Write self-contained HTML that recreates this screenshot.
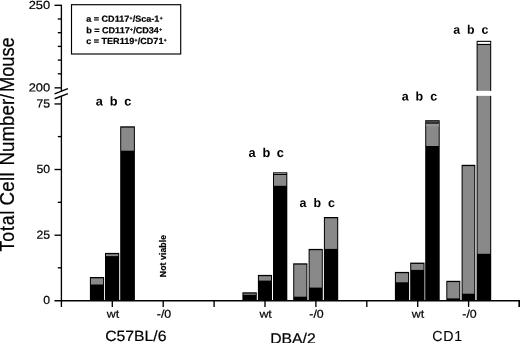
<!DOCTYPE html>
<html><head><meta charset="utf-8"><title>Total Cell Number/Mouse</title><style>
html,body{margin:0;padding:0;background:#fff;overflow:hidden}
svg{display:block}
text{font-family:"Liberation Sans",sans-serif;fill:#000}
.b{font-weight:bold}
.n{font-size:11.6px;text-anchor:end}
.x{font-size:11.8px;text-anchor:middle}
.g{font-size:15.6px;text-anchor:middle}
.l{font-size:13px;font-weight:bold;text-anchor:middle}
.k{font-size:8.8px;font-weight:bold}
.s{font-size:4.8px}
</style></head><body>
<svg width="520" height="343" viewBox="0 0 520 343">
<rect width="520" height="343" fill="#fff"/>
<text transform="translate(14.2,251.5) rotate(-90) scale(0.8800,1)" font-size="20px" letter-spacing="1.1" stroke="#000" stroke-width="0.25">Total</text>
<text transform="translate(14.2,205.6) rotate(-90) scale(0.9400,1)" font-size="20px" letter-spacing="0.35" stroke="#000" stroke-width="0.25">Cell</text>
<text transform="translate(14.2,165.4) rotate(-90) scale(0.9350,1)" font-size="20px" letter-spacing="0" stroke="#000" stroke-width="0.25">Number/</text>
<text transform="translate(14.2,91.9) rotate(-90) scale(0.9100,1)" font-size="20px" letter-spacing="0" stroke="#000" stroke-width="0.25">Mouse</text>
<g stroke="#000" stroke-width="1.35" fill="none">
<path d="M61.4 4.7V91.4M61.4 96V306.9"/>
<path d="M54.5 300.75H520"/>
<path d="M54.5 5.3H61.4"/>
<path d="M54.5 87.85H61.4"/>
<path d="M54.5 103.95H61.4"/>
<path d="M54.5 169.5H61.4"/>
<path d="M54.5 235.2H61.4"/>
<path d="M57.8 19H61.4"/>
<path d="M57.8 32.7H61.4"/>
<path d="M57.8 46.4H61.4"/>
<path d="M57.8 60.1H61.4"/>
<path d="M57.8 73.8H61.4"/>
<path d="M57.8 136.6H61.4"/>
<path d="M57.8 202.3H61.4"/>
<path d="M57.8 267.8H61.4"/>
<path d="M54.6 93.95L67.9 88.55M54.6 98.75L67.9 93.55"/>
<path d="M519.2 300.75V306.9" stroke-width="1.7"/>
<path d="M112.3 300.75V306.9"/>
<path d="M163.2 300.75V306.9"/>
<path d="M214.1 300.75V306.9"/>
<path d="M265.0 300.75V306.9"/>
<path d="M315.9 300.75V306.9"/>
<path d="M366.8 300.75V306.9"/>
<path d="M417.7 300.75V306.9"/>
<path d="M468.6 300.75V306.9"/>
</g>
<text transform="translate(50.1,8.9) rotate(0.03) scale(1.1,1)" font-size="11.7px" text-anchor="end" stroke="#000" stroke-width="0.2">250</text>
<text transform="translate(50.1,91.4) rotate(0.03) scale(1.1,1)" font-size="11.7px" text-anchor="end" stroke="#000" stroke-width="0.2">200</text>
<text transform="translate(50.1,107.5) rotate(0.03) scale(1.045,1)" font-size="11.7px" text-anchor="end" stroke="#000" stroke-width="0.2">75</text>
<text transform="translate(50.1,173.1) rotate(0.03) scale(1.045,1)" font-size="11.7px" text-anchor="end" stroke="#000" stroke-width="0.2">50</text>
<text transform="translate(50.1,238.8) rotate(0.03) scale(1.045,1)" font-size="11.7px" text-anchor="end" stroke="#000" stroke-width="0.2">25</text>
<text transform="translate(50.1,303.9) rotate(0.03) scale(1.045,1)" font-size="11.7px" text-anchor="end" stroke="#000" stroke-width="0.2">0</text>
<rect x="71.5" y="4.7" width="109.2" height="49.3" fill="#fff" stroke="#000" stroke-width="1.15"/>
<text class="k" transform="translate(86.2,21.8) rotate(0.03) scale(1.03,1)" stroke="#000" stroke-width="0.2">a = CD117<tspan class="s" dy="-2.2" dx="0.3">+</tspan><tspan dy="2.2" dx="0.3">/Sca-1</tspan><tspan class="s" dy="-2.2" dx="0.3">+</tspan></text>
<text class="k" transform="translate(86.2,33.3) rotate(0.03) scale(1.03,1)" stroke="#000" stroke-width="0.2">b = CD117<tspan class="s" dy="-2.2" dx="0.3">+</tspan><tspan dy="2.2" dx="0.3">/CD34</tspan><tspan class="s" dy="-2.2" dx="0.3">+</tspan></text>
<text class="k" transform="translate(86.2,44.0) rotate(0.03) scale(1.03,1)" stroke="#000" stroke-width="0.2">c = TER119<tspan class="s" dy="-2.2" dx="0.3">+</tspan><tspan dy="2.2" dx="0.3">/CD71</tspan><tspan class="s" dy="-2.2" dx="0.3">+</tspan></text>
<rect x="89.9" y="277.0" width="14.2" height="23.8" fill="#000"/>
<rect x="90.90" y="278.3" width="12.20" height="6.2" fill="#898989"/>
<rect x="105.0" y="252.9" width="14.2" height="47.8" fill="#000"/>
<rect x="106.00" y="254.2" width="12.20" height="1.9" fill="#898989"/>
<rect x="120.2" y="126.3" width="14.7" height="174.4" fill="#000"/>
<rect x="121.20" y="127.6" width="12.70" height="23.1" fill="#898989"/>
<rect x="242.4" y="292.3" width="14.4" height="8.4" fill="#000"/>
<rect x="243.40" y="293.6" width="12.40" height="1.2" fill="#898989"/>
<rect x="257.9" y="274.9" width="14.1" height="25.9" fill="#000"/>
<rect x="258.90" y="276.2" width="12.10" height="4.4" fill="#898989"/>
<rect x="273.0" y="172.3" width="14.3" height="128.4" fill="#000"/>
<rect x="274.00" y="173.4" width="12.30" height="0.5" fill="#fff"/>
<rect x="274.00" y="175.0" width="12.30" height="10.8" fill="#898989"/>
<rect x="293.2" y="263.3" width="14.2" height="37.4" fill="#000"/>
<rect x="294.20" y="264.6" width="12.20" height="32.1" fill="#898989"/>
<rect x="308.6" y="248.9" width="14.2" height="51.8" fill="#000"/>
<rect x="309.60" y="250.2" width="12.20" height="37.4" fill="#898989"/>
<rect x="323.9" y="217.0" width="14.3" height="83.8" fill="#000"/>
<rect x="324.90" y="218.3" width="12.30" height="30.6" fill="#898989"/>
<rect x="394.9" y="271.9" width="14.2" height="28.9" fill="#000"/>
<rect x="395.90" y="273.2" width="12.20" height="9.1" fill="#898989"/>
<rect x="410.2" y="262.6" width="14.3" height="38.1" fill="#000"/>
<rect x="411.20" y="263.9" width="12.30" height="6.0" fill="#898989"/>
<rect x="425.2" y="120.2" width="14.5" height="180.6" fill="#000"/>
<rect x="426.20" y="121.5" width="12.50" height="24.5" fill="#898989"/>
<rect x="446.3" y="280.8" width="14.0" height="19.9" fill="#000"/>
<rect x="447.30" y="282.1" width="12.00" height="16.3" fill="#898989"/>
<rect x="461.6" y="164.8" width="13.7" height="135.9" fill="#000"/>
<rect x="462.60" y="166.1" width="11.70" height="127.6" fill="#898989"/>
<rect x="476.6" y="40.8" width="14.6" height="259.9" fill="#000"/>
<rect x="477.60" y="41.9" width="12.60" height="2.0" fill="#fff"/>
<rect x="477.60" y="45.0" width="12.60" height="208.8" fill="#898989"/>
<rect x="426.05" y="121.6" width="12.8" height="0.9" fill="#4a4a4a"/>
<rect x="426.05" y="122.5" width="12.8" height="1.3" fill="#000"/>
<rect x="426.05" y="123.8" width="12.8" height="2.6" fill="#949494"/>
<rect x="474" y="90.85" width="20" height="5.0" fill="#fff"/>
<text class="l" transform="translate(99.4,105.5) rotate(0.03)" style="font-size:12.7px">a</text>
<text class="l" transform="translate(113.5,105.5) rotate(0.03)" style="font-size:12.7px">b</text>
<text class="l" transform="translate(127.8,105.5) rotate(0.03)" style="font-size:12.7px">c</text>
<text class="l" transform="translate(303.0,207.1) rotate(0.03)" style="font-size:12.4px">a</text>
<text class="l" transform="translate(317.4,207.1) rotate(0.03)" style="font-size:12.4px">b</text>
<text class="l" transform="translate(331.5,207.1) rotate(0.03)" style="font-size:12.4px">c</text>
<text class="l" transform="translate(252,156.9) rotate(0.03)" style="font-size:12.8px">a</text>
<text class="l" transform="translate(266.4,156.9) rotate(0.03)" style="font-size:12.8px">b</text>
<text class="l" transform="translate(280.3,156.9) rotate(0.03)" style="font-size:12.8px">c</text>
<text class="l" transform="translate(405.1,100.6) rotate(0.03)" style="font-size:12.5px">a</text>
<text class="l" transform="translate(419.4,100.6) rotate(0.03)" style="font-size:12.5px">b</text>
<text class="l" transform="translate(433.6,100.6) rotate(0.03)" style="font-size:12.5px">c</text>
<text class="l" transform="translate(456.6,33.7) rotate(0.03)" style="font-size:12.3px">a</text>
<text class="l" transform="translate(470.7,33.7) rotate(0.03)" style="font-size:12.3px">b</text>
<text class="l" transform="translate(484.8,33.7) rotate(0.03)" style="font-size:12.3px">c</text>
<text transform="translate(113,317.7) rotate(0.03) scale(1.09,1)" font-size="11.4px" text-anchor="middle" stroke="#000" stroke-width="0.2">wt</text>
<text transform="translate(164,317.7) rotate(0.03) scale(1.09,1)" font-size="11.4px" text-anchor="middle" stroke="#000" stroke-width="0.2">-/0</text>
<text transform="translate(265.6,317.7) rotate(0.03) scale(1.09,1)" font-size="11.4px" text-anchor="middle" stroke="#000" stroke-width="0.2">wt</text>
<text transform="translate(316.5,317.7) rotate(0.03) scale(1.09,1)" font-size="11.4px" text-anchor="middle" stroke="#000" stroke-width="0.2">-/0</text>
<text transform="translate(418,317.7) rotate(0.03) scale(1.09,1)" font-size="11.4px" text-anchor="middle" stroke="#000" stroke-width="0.2">wt</text>
<text transform="translate(469.5,317.7) rotate(0.03) scale(1.09,1)" font-size="11.4px" text-anchor="middle" stroke="#000" stroke-width="0.2">-/0</text>
<text transform="translate(135.8,340.9) rotate(0.03) scale(1.065,1)" font-size="14.8px" text-anchor="middle" stroke="#000" stroke-width="0.2">C57BL/6</text>
<text transform="translate(292.9,343.4) rotate(0.03) scale(1.065,1)" font-size="14.8px" text-anchor="middle" stroke="#000" stroke-width="0.2">DBA/2</text>
<text transform="translate(447.5,340.9) rotate(0.03) scale(0.98,1)" font-size="14.5px" text-anchor="middle" stroke="#000" stroke-width="0.1" letter-spacing="0.8">CD1</text>
<text transform="translate(166.4,277.2) rotate(-90)" class="b" font-size="8.7px" letter-spacing="0.08" stroke="#000" stroke-width="0.2">Not viable</text>
</svg>
</body></html>
